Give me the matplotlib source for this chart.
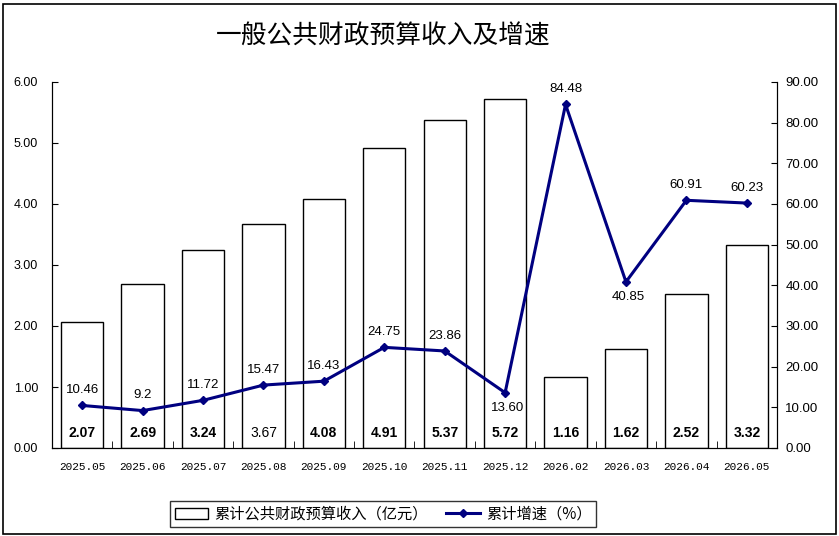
import matplotlib
matplotlib.use("Agg")
import matplotlib.pyplot as plt
from matplotlib.patches import Rectangle
from matplotlib.lines import Line2D
import numpy as np

plt.rcParams['font.family'] = ['Liberation Sans', 'Noto Sans CJK SC', 'DejaVu Sans']

months = ["2025.05", "2025.06", "2025.07", "2025.08", "2025.09", "2025.10",
          "2025.11", "2025.12", "2026.02", "2026.03", "2026.04", "2026.05"]
income = [2.07, 2.69, 3.24, 3.67, 4.08, 4.91, 5.37, 5.72, 1.16, 1.62, 2.52, 3.32]
growth = [10.46, 9.2, 11.72, 15.47, 16.43, 24.75, 23.86, 13.60, 84.48, 40.85, 60.91, 60.23]
growth_text = ["10.46", "9.2", "11.72", "15.47", "16.43", "24.75", "23.86",
               "13.60", "84.48", "40.85", "60.91", "60.23"]
# which line labels sit under the point
below = [False] * 7 + [True, False, True, False, False]
# 3.67 is not bold in the original
bold = [True, True, True, False, True, True, True, True, True, True, True, True]

navy = "#000080"
cjk = ['Noto Sans CJK SC', 'DejaVu Sans']

fig = plt.figure(figsize=(8.39, 5.36), dpi=100)
fig.patches.append(Rectangle((0.003, 0.004), 0.994, 0.988, transform=fig.transFigure,
                             fill=False, edgecolor="black", linewidth=1.2))
ax = fig.add_axes([52 / 839, 1 - 448 / 536, (777 - 52) / 839, (448 - 82) / 536])
x = np.arange(len(months))

ax.bar(x, income, width=0.7, facecolor="white", edgecolor="black", linewidth=1)
for xi, v, b in zip(x, income, bold):
    ax.text(xi, 0.25, f"{v:.2f}", ha="center", va="center", fontsize=10,
            fontweight="bold" if b else "normal")

ax.set_xlim(-0.5, len(months) - 0.5)
ax.set_ylim(0, 6)
ax.set_yticks(np.arange(0, 6.01, 1))
ax.set_yticklabels([f"{v:.2f}" for v in np.arange(0, 6.01, 1)], fontsize=9)
ax.set_xticks(x)
ax.set_xticklabels(months, fontsize=8, family="Liberation Mono")
ax.set_xticks(np.arange(0.5, len(months) - 1, 1), minor=True)
ax.tick_params(axis="x", which="major", length=0, pad=10)
ax.tick_params(axis="x", which="minor", direction="in", length=5)
ax.tick_params(axis="y", direction="in", length=4, pad=10)
ax.spines["top"].set_visible(False)

ax2 = ax.twinx()
ax2.plot(x, growth, color=navy, linewidth=2.2, marker="D", markersize=4.5)
ax2.set_ylim(0, 90)
ax2.set_yticks(np.arange(0, 91, 10))
ax2.set_yticklabels([f"{v:.2f}" for v in np.arange(0, 91, 10)], fontsize=9.5)
ax2.tick_params(axis="y", direction="in", length=4, pad=6)
ax2.spines["top"].set_visible(False)
for xi, v, t, b in zip(x, growth, growth_text, below):
    if b:
        ax2.annotate(t, (xi, v), xytext=(2, -11), textcoords="offset points",
                     ha="center", va="center", fontsize=9.5)
    else:
        ax2.annotate(t, (xi, v), xytext=(0, 11), textcoords="offset points",
                     ha="center", va="center", fontsize=9.5)

fig.text(383 / 839, 1 - 37 / 536, "一般公共财政预算收入及增速", ha="center", va="center",
         fontsize=18.5, family=cjk, fontweight="light")

handles = [Rectangle((0, 0), 1, 1, facecolor="white", edgecolor="black", linewidth=1),
           Line2D([], [], color=navy, linewidth=2.2, marker="D", markersize=4.5)]
leg = fig.legend(handles, ["累计公共财政预算收入（亿元）", "累计增速（%）"],
                 loc="center", bbox_to_anchor=(383 / 839, 1 - 514 / 536), ncol=2,
                 prop={"family": cjk, "size": 11}, frameon=True, fancybox=False,
                 edgecolor="black", handlelength=2.2, handletextpad=0.4,
                 columnspacing=1.2, borderpad=0.3)
leg.get_frame().set_linewidth(1)

fig.savefig("out.png", dpi=100)
